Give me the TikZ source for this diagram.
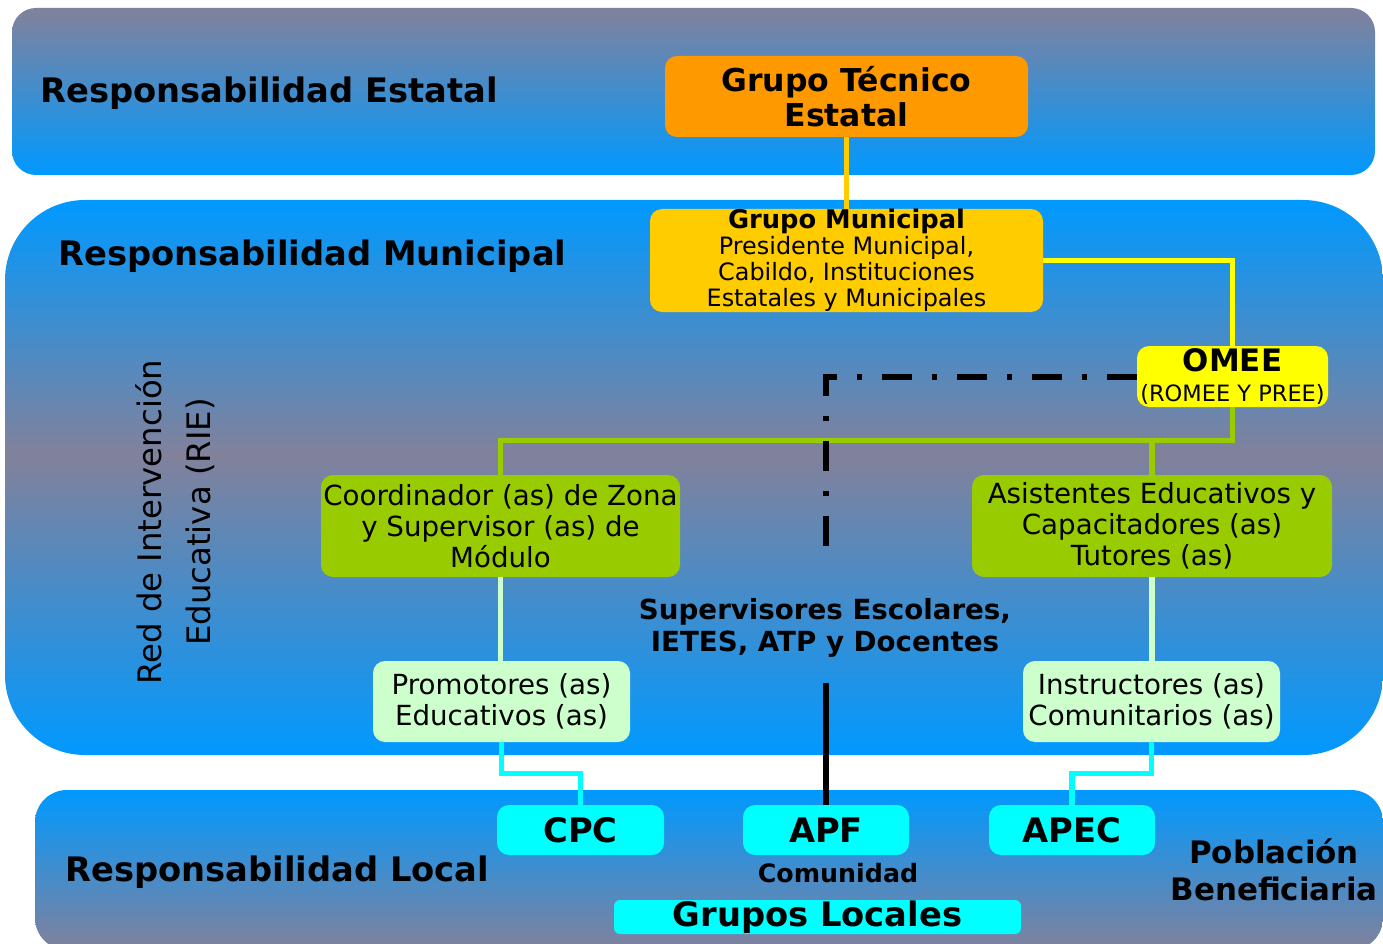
\documentclass[tikz,border=0pt]{standalone}
\usepackage{fontspec}
\setmainfont{DejaVu Sans}
\usetikzlibrary{calc,positioning}
\definecolor{bandblue}{HTML}{0099FF}
\definecolor{bandgray}{HTML}{82819B}
\definecolor{orangebox}{HTML}{FF9900}
\definecolor{goldbox}{HTML}{FFCC00}
\definecolor{yellowbox}{HTML}{FFFF00}
\definecolor{greenbox}{HTML}{99CC00}
\definecolor{palebox}{HTML}{CCFFCC}
\definecolor{cyanbox}{HTML}{00FFFF}
\pgfdeclareverticalshading{midband}{100bp}{color(0bp)=(bandblue); color(25bp)=(bandblue);
  color(52bp)=(bandgray); color(75bp)=(bandblue); color(100bp)=(bandblue)}

\begin{document}
\begin{tikzpicture}[x=0.25mm, y=-0.25mm,
  box/.style={rounded corners=3mm, inner sep=0pt, align=center},
  boxsize/.style 2 args={minimum width=#1*0.25mm, minimum height=#2*0.25mm},
  title/.style={font=\bfseries\fontsize{24}{27}\selectfont, anchor=west, inner sep=0pt},
  body/.style={font=\fontsize{19.7}{22}\selectfont},
  tag/.style={font=\bfseries\fontsize{24}{25}\selectfont},
  link/.style={line width=1.3mm},
]
\useasboundingbox[fill=white] (0,0) rectangle (1383,944);

% bands
\shade[top color=bandgray, bottom color=bandblue, rounded corners=6mm]
  (12,8) rectangle (1375,175);
\shade[shading=midband, rounded corners=20mm]
  (5,200) rectangle (1383,755);
\shade[top color=bandblue, bottom color=bandgray, rounded corners=8mm]
  (35,790) rectangle (1383,950);

% band titles
\node[title] (estatal) at (40,93) {Responsabilidad Estatal};
\node[title] (municipal) at (58,256) {Responsabilidad Municipal};
\node[title] (local) at (65,872) {Responsabilidad Local};
\node[font=\bfseries\fontsize{22}{26}\selectfont, align=center] (poblacion) at (1274,870) {Población\\Beneficiaria};
\node[rotate=90, align=center, font=\fontsize{23}{35}\selectfont] (rie) at (175,522)
  {Red de Intervención\\Educativa (RIE)};

% boxes
\node[box, boxsize={363}{81}, fill=orangebox, font=\bfseries\fontsize{22.4}{25}\selectfont] (gte) at (846.5,96.5)
  {Grupo Técnico\\Estatal};
\node[box, boxsize={393}{103}, fill=goldbox, font=\fontsize{17}{18.5}\selectfont] (gm) at (846.5,260.5)
  {{\bfseries\fontsize{18.3}{18.5}\selectfont Grupo Municipal}\\Presidente Municipal,\\Cabildo, Instituciones\\Estatales y Municipales};
\node[box, boxsize={191}{61}, fill=yellowbox, font=\fontsize{16}{22}\selectfont] (omee) at (1232.5,376.5)
  {{\bfseries\fontsize{22}{22}\selectfont OMEE}\\(ROMEE Y PREE)};
\node[box, body, boxsize={359}{102}, fill=greenbox] (coord) at (500.5,526)
  {Coordinador (as) de Zona\\y Supervisor (as) de\\Módulo};
\node[box, body, boxsize={360}{102}, fill=greenbox] (asist) at (1152,526)
  {Asistentes Educativos y\\Capacitadores (as)\\Tutores (as)};
\node[box, body, boxsize={257}{81}, fill=palebox] (prom) at (501.5,701.5)
  {Promotores (as)\\Educativos (as)};
\node[box, body, boxsize={257}{81}, fill=palebox] (instr) at (1151.5,701.5)
  {Instructores (as)\\Comunitarios (as)};
\node[font=\bfseries\fontsize{19.7}{23}\selectfont, align=center] (supv) at (825,628)
  {Supervisores Escolares,\\IETES, ATP y Docentes};

\node[box, tag, boxsize={167}{50}, fill=cyanbox] (cpc) at (580.5,830) {CPC};
\node[box, tag, boxsize={166}{50}, fill=cyanbox] (apf) at (826,830) {APF};
\node[box, tag, boxsize={166}{50}, fill=cyanbox] (apec) at (1072,830) {APEC};
\node[font=\bfseries\fontsize{18}{20}\selectfont] (comunidad) at (838,873) {Comunidad};
\node[box, tag, rounded corners=1.5mm, boxsize={407}{34}, fill=cyanbox] (glocal) at (817.5,917)
  {Grupos Locales};

% connectors
\draw[link, goldbox] (gte.south) -- (gm.north);
\draw[link, yellowbox] (gm.east) -| (omee.north);
\coordinate (bus) at ($(omee.south)+(0,33)$);
\draw[link, greenbox] (omee.south) -- (bus) -| (coord.north);
\draw[link, greenbox] (asist.north) -- (asist.north |- bus);
\draw[link, palebox] (coord.south) -- (coord.south |- prom.north);
\draw[link, palebox] (asist.south) -- (asist.south |- instr.north);
\draw[link, cyanbox] (prom.south) -- ++(0,31) -| (cpc.north);
\draw[link, cyanbox] (instr.south) -- ++(0,31) -| (apec.north);
\draw[line width=1.5mm, dash pattern=on 7.5mm off 5mm on 1.25mm off 5mm, shorten >=7.5mm]
  (omee.west) -| (apf.north |- supv.north);
\draw[link, black, shorten >=5mm] (apf.north) -- (apf.north |- supv.south);
\end{tikzpicture}
\end{document}
